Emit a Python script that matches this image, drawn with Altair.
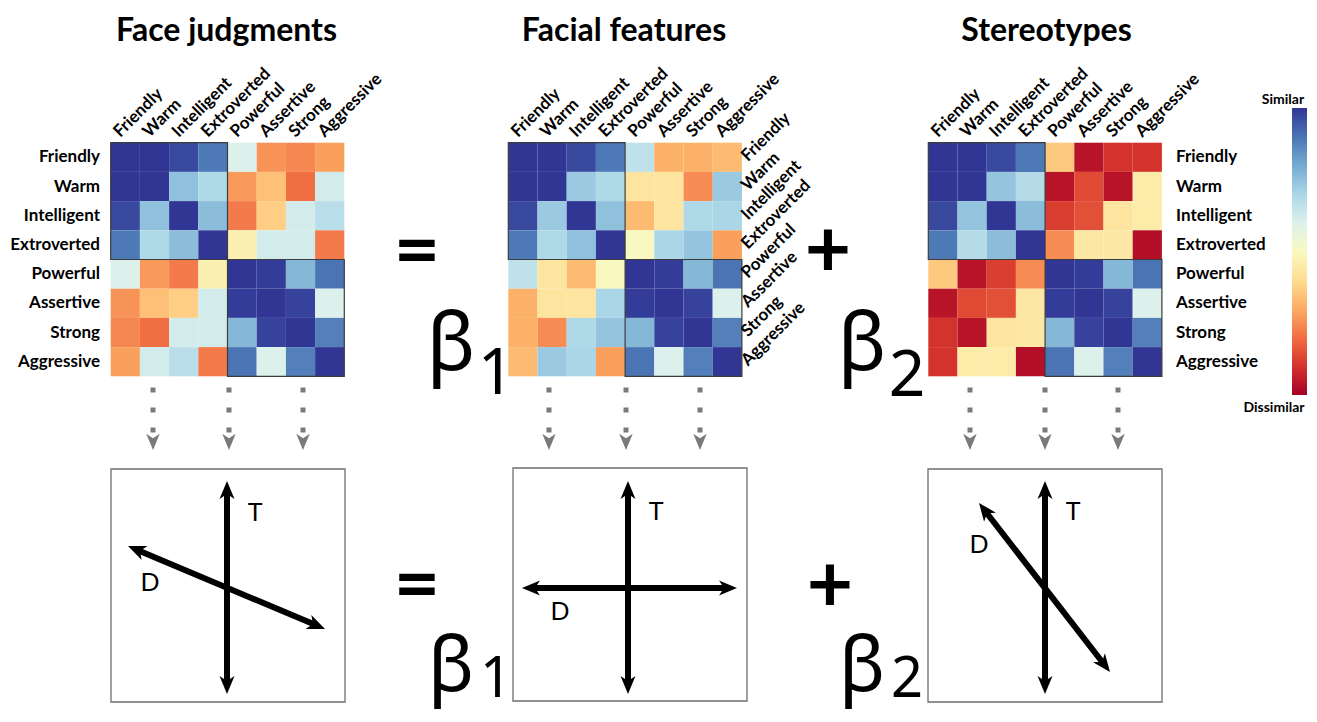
import math
import altair as alt
import pandas as pd

# ---------------- data ----------------
traits = ["Friendly", "Warm", "Intelligent", "Extroverted",
          "Powerful", "Assertive", "Strong", "Aggressive"]

face_judgments = [
    [1.00, 1.00, 0.97, 0.89, 0.60, 0.26, 0.24, 0.28],
    [1.00, 1.00, 0.75, 0.69, 0.27, 0.34, 0.20, 0.62],
    [0.97, 0.75, 1.00, 0.76, 0.22, 0.37, 0.62, 0.67],
    [0.89, 0.69, 0.76, 1.00, 0.47, 0.62, 0.62, 0.22],
    [0.60, 0.27, 0.22, 0.47, 1.00, 0.99, 0.77, 0.90],
    [0.26, 0.34, 0.37, 0.62, 0.99, 1.00, 0.98, 0.60],
    [0.24, 0.20, 0.62, 0.62, 0.77, 0.98, 1.00, 0.88],
    [0.28, 0.62, 0.67, 0.22, 0.90, 0.60, 0.88, 1.00],
]
facial_features = [
    [1.00, 1.00, 0.97, 0.89, 0.66, 0.31, 0.31, 0.33],
    [1.00, 1.00, 0.73, 0.69, 0.43, 0.43, 0.25, 0.73],
    [0.97, 0.73, 1.00, 0.75, 0.33, 0.43, 0.69, 0.70],
    [0.89, 0.69, 0.75, 1.00, 0.50, 0.70, 0.74, 0.28],
    [0.66, 0.43, 0.33, 0.50, 1.00, 0.99, 0.77, 0.90],
    [0.31, 0.43, 0.43, 0.70, 0.99, 1.00, 0.98, 0.60],
    [0.31, 0.25, 0.69, 0.74, 0.77, 0.98, 1.00, 0.88],
    [0.33, 0.73, 0.70, 0.28, 0.90, 0.60, 0.88, 1.00],
]
stereotypes = [
    [1.00, 1.00, 0.97, 0.89, 0.36, 0.04, 0.10, 0.10],
    [1.00, 1.00, 0.74, 0.68, 0.04, 0.14, 0.04, 0.45],
    [0.97, 0.74, 1.00, 0.76, 0.12, 0.15, 0.43, 0.45],
    [0.89, 0.68, 0.76, 1.00, 0.25, 0.44, 0.44, 0.03],
    [0.36, 0.04, 0.12, 0.25, 1.00, 0.99, 0.77, 0.90],
    [0.04, 0.14, 0.15, 0.44, 0.99, 1.00, 0.98, 0.60],
    [0.10, 0.04, 0.43, 0.44, 0.77, 0.98, 1.00, 0.88],
    [0.10, 0.45, 0.45, 0.03, 0.90, 0.60, 0.88, 1.00],
]

panel_titles = ["Face judgments", "Facial features", "Stereotypes"]
colorbar_labels = ["Similar", "Dissimilar"]
axis_labels = ["T", "D"]
betas = ["β", "β"]
beta_subs = ["1", "2"]

# ---------------- layout (page pixels) ----------------
HM_LEFT = [110.7, 508.3, 928.3]
HM_TOP = 142.7
CELL = 29.2
TITLE_X = [226.5, 624.0, 1046.5]
TITLE_Y = 41
DOT_X = [153, 229, 303, 549, 626, 700, 970, 1045, 1118]
BOX_X = [111, 513, 928]
BOX_Y = [469, 468, 469]
BOX_W = 234
BOX_H = 233
# double-headed arrows inside the boxes (T axis and D axis)
ARR_X1 = [227, 128, 628, 522, 1045, 979]
ARR_Y1 = [481, 546, 481, 588, 481, 503]
ARR_X2 = [227, 325, 628, 737, 1045, 1110]
ARR_Y2 = [694, 629, 694, 588, 694, 672]
T_POS = [(255, 513), (656, 512), (1073, 512)]
D_POS = [(150, 583), (560, 612), (979, 545)]
OP_POS = [(417, 253, "="), (828, 253, "+"), (417, 587, "="), (830, 588, "+")]
BETA_POS = [(451, 370, 0, 80, 394, 64), (862, 370, 1, 80, 396, 64),
            (451, 691, 0, 76, 697, 56), (862, 691, 1, 76, 697, 56)]

W, H = 1301, 706
XS = alt.Scale(domain=[8, 8 + W], nice=False, zero=False)
YS = alt.Scale(domain=[8, 8 + H], reverse=True, nice=False, zero=False)


def X(f):
    return alt.X(f, type="quantitative", scale=XS, axis=None)


def Y(f):
    return alt.Y(f, type="quantitative", scale=YS, axis=None)


FONT = "Lato"
LAB = 17

# ---------------- heatmap cells ----------------
rows = []
for p, mat in enumerate([face_judgments, facial_features, stereotypes]):
    for i in range(8):
        for j in range(8):
            rows.append(dict(panel=panel_titles[p], row=traits[i], col=traits[j],
                             v=mat[i][j],
                             x=HM_LEFT[p] + j * CELL, x2=HM_LEFT[p] + (j + 1) * CELL,
                             y=HM_TOP + i * CELL, y2=HM_TOP + (i + 1) * CELL))
cells = pd.DataFrame(rows)

heat = alt.Chart(cells).mark_rect(strokeWidth=0).encode(
    x=X("x"), x2="x2", y=Y("y"), y2="y2",
    color=alt.Color("v:Q",
                    scale=alt.Scale(scheme="redyellowblue", domain=[0, 1]),
                    legend=alt.Legend(orient="none", legendX=1284, legendY=100,
                                      direction="vertical", gradientLength=287,
                                      gradientThickness=15, gradientStrokeWidth=0,
                                      labelOpacity=0, labelExpr="''",
                                      title=None, padding=0)),
)

blocks = []
for p in range(3):
    for b in range(2):
        blocks.append(dict(x=HM_LEFT[p] + b * 4 * CELL, x2=HM_LEFT[p] + (b + 1) * 4 * CELL,
                           y=HM_TOP + b * 4 * CELL, y2=HM_TOP + (b + 1) * 4 * CELL))
block_layer = alt.Chart(pd.DataFrame(blocks)).mark_rect(
    fillOpacity=0, stroke="#3c3c3c", strokeWidth=1.2).encode(
    x=X("x"), x2="x2", y=Y("y"), y2="y2")

# ---------------- labels ----------------
col_lab = pd.DataFrame([dict(x=HM_LEFT[p] + (j + 0.5) * CELL - 5, y=138, t=traits[j])
                        for p in range(3) for j in range(8)])
col_layer = alt.Chart(col_lab).mark_text(
    angle=315, align="left", baseline="alphabetic", font=FONT, fontWeight="bold",
    fontSize=LAB, color="black").encode(x=X("x"), y=Y("y"), text="t:N")

row1 = pd.DataFrame([dict(x=100, y=HM_TOP + (i + 0.5) * CELL, t=traits[i]) for i in range(8)])
row1_layer = alt.Chart(row1).mark_text(
    align="right", baseline="middle", font=FONT, fontWeight="bold", fontSize=LAB,
    color="black").encode(x=X("x"), y=Y("y"), text="t:N")

row3 = pd.DataFrame([dict(x=1176, y=HM_TOP + (i + 0.5) * CELL, t=traits[i]) for i in range(8)])
row3_layer = alt.Chart(row3).mark_text(
    align="left", baseline="middle", font=FONT, fontWeight="bold", fontSize=LAB,
    color="black").encode(x=X("x"), y=Y("y"), text="t:N")

row2 = pd.DataFrame([dict(x=748, y=HM_TOP + (i + 0.5) * CELL + 5, t=traits[i]) for i in range(8)])
row2_layer = alt.Chart(row2).mark_text(
    angle=315, align="left", baseline="alphabetic", font=FONT, fontWeight="bold",
    fontSize=LAB, color="black").encode(x=X("x"), y=Y("y"), text="t:N")

titles = pd.DataFrame([dict(x=TITLE_X[p], y=TITLE_Y, t=panel_titles[p]) for p in range(3)])
title_layer = alt.Chart(titles).mark_text(
    align="center", baseline="alphabetic", font=FONT, fontWeight="bold", fontSize=32,
    color="black").encode(x=X("x"), y=Y("y"), text="t:N")

cb = pd.DataFrame([dict(x=1283, y=100, t=colorbar_labels[0]),
                   dict(x=1274, y=408, t=colorbar_labels[1])])
cb_layer = alt.Chart(cb).mark_text(
    align="center", baseline="middle", font=FONT, fontWeight="bold", fontSize=14,
    color="black").encode(x=X("x"), y=Y("y"), text="t:N")

# ---------------- dotted grey arrows ----------------
dots = pd.DataFrame([dict(x=x, y=387.5, y2=432.5) for x in DOT_X])
dot_layer = alt.Chart(dots).mark_rule(
    color="#7a7a7a", strokeWidth=5, strokeDash=[5, 15], strokeCap="butt").encode(
    x=X("x"), y=Y("y"), y2="y2")

HEAD = "M0,0 L0.75,1.8 L0,1.3 L-0.75,1.8 Z"
dot_heads = pd.DataFrame([dict(x=x, y=450, a=180) for x in DOT_X])
dot_head_layer = alt.Chart(dot_heads).mark_point(
    shape=HEAD, filled=True, color="#7a7a7a", opacity=1, size=324).encode(
    x=X("x"), y=Y("y"), angle=alt.Angle("a:Q", scale=None))

# ---------------- boxes and black arrows ----------------
boxes = pd.DataFrame([dict(x=BOX_X[k], x2=BOX_X[k] + BOX_W, y=BOX_Y[k], y2=BOX_Y[k] + BOX_H)
                      for k in range(3)])
box_layer = alt.Chart(boxes).mark_rect(
    fillOpacity=0, stroke="#6e6e6e", strokeWidth=1.3).encode(
    x=X("x"), x2="x2", y=Y("y"), y2="y2")

shafts, heads = [], []
for x1, y1, x2, y2 in zip(ARR_X1, ARR_Y1, ARR_X2, ARR_Y2):
    dx, dy = x2 - x1, y2 - y1
    L = math.hypot(dx, dy)
    ux, uy = dx / L, dy / L
    cut = 12
    shafts.append(dict(x=x1 + ux * cut, y=y1 + uy * cut, x2=x2 - ux * cut, y2=y2 - uy * cut))
    ang = math.degrees(math.atan2(dy, dx))
    heads.append(dict(x=x2, y=y2, a=(ang + 90) % 360))
    heads.append(dict(x=x1, y=y1, a=(ang + 270) % 360))
shaft_layer = alt.Chart(pd.DataFrame(shafts)).mark_rule(
    color="black", strokeWidth=6, strokeCap="butt").encode(
    x=X("x"), y=Y("y"), x2="x2", y2="y2")
head_layer = alt.Chart(pd.DataFrame(heads)).mark_point(
    shape=HEAD, filled=True, color="black", opacity=1, size=400).encode(
    x=X("x"), y=Y("y"), angle=alt.Angle("a:Q", scale=None))

td = pd.DataFrame([dict(x=p[0], y=p[1], t=axis_labels[0]) for p in T_POS] +
                  [dict(x=p[0], y=p[1], t=axis_labels[1]) for p in D_POS])
td_layer = alt.Chart(td).mark_text(
    align="center", baseline="middle", font=FONT, fontSize=25, color="black").encode(
    x=X("x"), y=Y("y"), text="t:N")

# ---------------- operators and betas ----------------
ops = pd.DataFrame([dict(x=o[0], y=o[1], t=o[2]) for o in OP_POS])
op_layer = alt.Chart(ops).mark_text(
    align="center", baseline="middle", font=FONT, fontWeight="bold", fontSize=80,
    color="black").encode(x=X("x"), y=Y("y"), text="t:N")

beta_df = pd.DataFrame([dict(x=b[0], y=b[1], t=betas[b[2]], fs=b[3]) for b in BETA_POS])
beta_layer = alt.Chart(beta_df).mark_text(
    align="center", baseline="alphabetic", font="Noto Sans",
    color="black").encode(x=X("x"), y=Y("y"), text="t:N",
                          size=alt.Size("fs:Q", scale=None))

sub_df = pd.DataFrame([dict(x=b[0] + 45, y=b[4], t=beta_subs[b[2]], fs=b[5]) for b in BETA_POS])
sub_layer = alt.Chart(sub_df).mark_text(
    align="center", baseline="alphabetic", font="Noto Sans",
    color="black").encode(x=X("x"), y=Y("y"), text="t:N",
                          size=alt.Size("fs:Q", scale=None))

chart = alt.layer(
    heat, block_layer, col_layer, row1_layer, row2_layer, row3_layer, title_layer,
    cb_layer, dot_layer, dot_head_layer, box_layer, shaft_layer, head_layer, td_layer,
    op_layer, beta_layer, sub_layer,
).properties(
    width=W, height=H, padding=0, autosize=alt.AutoSizeParams(type="none"),
).configure_view(stroke="transparent")

chart.save("out.html", embed_options={"renderer": "svg", "actions": False})
